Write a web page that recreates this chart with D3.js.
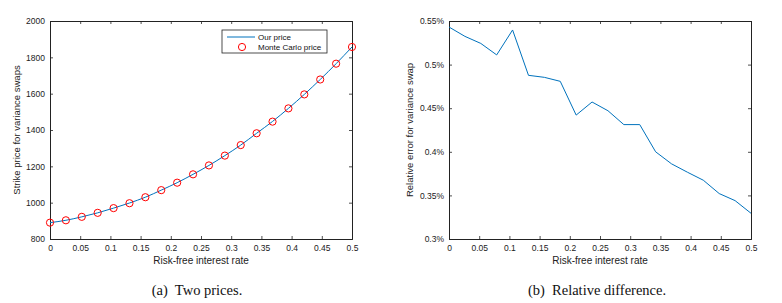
<!DOCTYPE html>
<html>
<head>
<meta charset="utf-8">
<script src="https://cdn.jsdelivr.net/npm/d3@7"></script>
<style>
  body { margin: 0; background: #fff; }
  svg text { font-family: "Liberation Sans", Arial, sans-serif; }
</style>
</head>
<body>
<div id="chart"></div>
<script>
// risk-free rates (20 points from 0 to 0.5)
const rates = d3.range(20).map(i => i * 0.5 / 19);
// strike prices (our price ~ monte carlo price)
const ourPrice = [890, 903, 922, 944, 970, 998, 1030, 1069, 1110, 1156, 1205, 1259, 1317, 1382, 1447, 1519, 1596, 1678, 1765, 1857];
const mcPrice  = [890, 903, 922, 944, 970, 997, 1030, 1069, 1110, 1156, 1205, 1259, 1317, 1382, 1446, 1519, 1596, 1678, 1765, 1857];
// relative error in %
const relError = [0.5431, 0.5324, 0.5243, 0.5111, 0.5397, 0.4877, 0.4854, 0.4808, 0.4421, 0.4571, 0.4471, 0.4312, 0.4312, 0.4000, 0.3862, 0.3766, 0.3674, 0.3521, 0.3440, 0.3295];

const xTicks = [0, 0.05, 0.1, 0.15, 0.2, 0.25, 0.3, 0.35, 0.4, 0.45, 0.5];
const priceTicks = [800, 1000, 1200, 1400, 1600, 1800, 2000];
const errTicks = [0.3, 0.35, 0.4, 0.45, 0.5, 0.55];

const W = 782, H = 303;
const svg = d3.select("#chart").append("svg").attr("width", W).attr("height", H);

const lineColor = "#0072BD";
const textColor = "#222";

function drawPanel(opt) {
  const g = svg.append("g");
  const x = d3.scaleLinear().domain([0, 0.5]).range([opt.left, opt.right]);
  const y = d3.scaleLinear().domain(opt.yDomain).range([opt.bottom, opt.top]);

  // box axes with inward ticks
  const axes = [
    [d3.axisBottom(x).tickValues(xTicks).tickSize(-3).tickFormat(d => d3.format("")(d)), opt.bottom, "x", true],
    [d3.axisTop(x).tickValues(xTicks).tickSize(-3).tickFormat(""), opt.top, "x", false],
    [d3.axisLeft(y).tickValues(opt.yTicks).tickSize(-3).tickFormat(opt.fmt), opt.left, "y", true],
    [d3.axisRight(y).tickValues(opt.yTicks).tickSize(-3).tickFormat(""), opt.right, "y", false]
  ];
  axes.forEach(([ax, pos, dir, lab]) => {
    const a = g.append("g")
      .attr("transform", dir === "x" ? `translate(0,${pos})` : `translate(${pos},0)`)
      .call(ax);
    a.select(".domain").attr("stroke", textColor).attr("stroke-width", 1);
    a.selectAll(".tick line").attr("stroke", textColor).attr("stroke-width", 0.8);
    a.selectAll("text").attr("fill", textColor).attr("font-size", 8.5);
    if (dir === "x" && lab) a.selectAll("text").attr("dy", "0.95em").attr("y", 4);
    if (dir === "y" && lab) a.selectAll("text").attr("x", -5);
  });

  // labels
  g.append("text")
    .attr("x", (opt.left + opt.right) / 2).attr("y", opt.bottom + 25)
    .attr("text-anchor", "middle").attr("font-size", 10).attr("fill", textColor)
    .text("Risk-free interest rate");
  g.append("text")
    .attr("transform", `translate(${opt.ylabX},${(opt.top + opt.bottom) / 2}) rotate(-90)`)
    .attr("text-anchor", "middle").attr("font-size", 9.5).attr("fill", textColor)
    .text(opt.ylab);
  g.append("text")
    .attr("x", opt.capX).attr("y", 295)
    .attr("text-anchor", "middle").attr("font-size", 14.5).attr("fill", "#111")
    .style("font-family", "'Liberation Serif', 'Times New Roman', serif")
    .attr("xml:space", "preserve")
    .text(opt.caption);

  return { g, x, y };
}

// panel (a)
const a = drawPanel({
  left: 50, right: 352, top: 21, bottom: 239,
  yDomain: [800, 2000], yTicks: priceTicks, fmt: d3.format("d"),
  ylab: "Strike price for variance swaps", ylabX: 20,
  caption: "(a)  Two prices.", capX: 197
});
a.g.append("path")
  .datum(ourPrice)
  .attr("fill", "none").attr("stroke", lineColor).attr("stroke-width", 1)
  .attr("d", d3.line().x((d, i) => a.x(rates[i])).y(d => a.y(d)).curve(d3.curveMonotoneX));
a.g.selectAll("circle.mc")
  .data(mcPrice).join("circle")
  .attr("class", "mc")
  .attr("cx", (d, i) => a.x(rates[i])).attr("cy", d => a.y(d))
  .attr("r", 3.6).attr("fill", "none").attr("stroke", "#ff0000").attr("stroke-width", 1);

// legend
const leg = a.g.append("g");
leg.append("rect").attr("x", 222).attr("y", 30).attr("width", 105).attr("height", 23)
  .attr("fill", "#fff").attr("stroke", textColor).attr("stroke-width", 0.8);
leg.append("line").attr("x1", 227).attr("x2", 255).attr("y1", 37).attr("y2", 37)
  .attr("stroke", lineColor).attr("stroke-width", 1);
leg.append("circle").attr("cx", 242).attr("cy", 47).attr("r", 3.6)
  .attr("fill", "none").attr("stroke", "#ff0000").attr("stroke-width", 1);
leg.append("text").attr("x", 258).attr("y", 40).attr("font-size", 8).attr("fill", "#111").text("Our price");
leg.append("text").attr("x", 258).attr("y", 50).attr("font-size", 8).attr("fill", "#111").text("Monte Carlo price");

// panel (b)
const b = drawPanel({
  left: 449, right: 751, top: 21, bottom: 239,
  yDomain: [0.3, 0.55], yTicks: errTicks, fmt: d => d3.format("")(+d.toFixed(2)) + "%",
  ylab: "Relative error for variance swap", ylabX: 413,
  caption: "(b)  Relative difference.", capX: 597
});
b.g.append("path")
  .datum(relError)
  .attr("fill", "none").attr("stroke", lineColor).attr("stroke-width", 1)
  .attr("d", d3.line().x((d, i) => b.x(rates[i])).y(d => b.y(d)));
</script>
</body>
</html>
